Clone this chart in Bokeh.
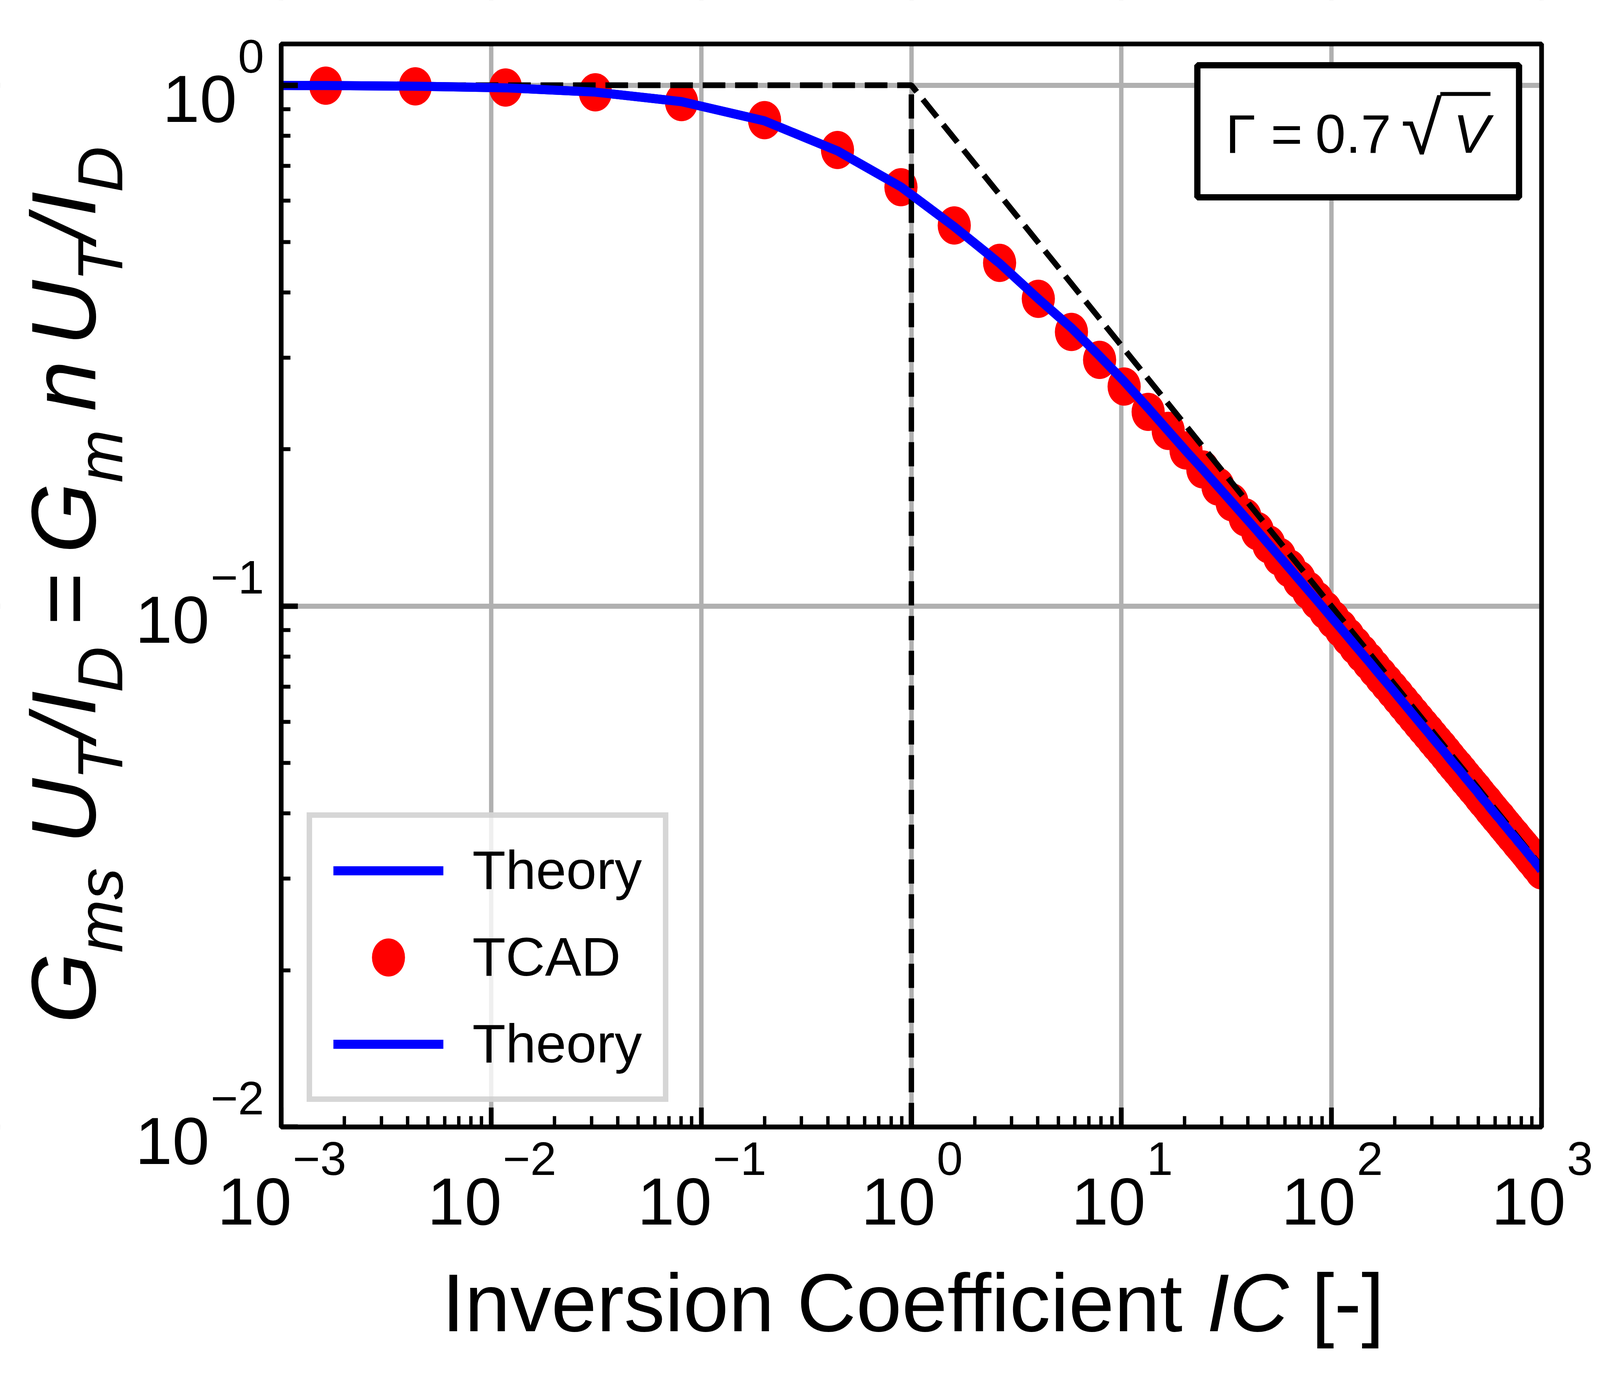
import math
from bokeh.plotting import figure
from bokeh.models import (Legend, LegendItem, Label, BoxAnnotation, FixedTicker,
                          CustomJSTickFormatter, Range1d)
from bokeh.embed import file_html
from bokeh.resources import INLINE

# ---------------- data ----------------
tcad_ic = [0.00163, 0.00435, 0.0117, 0.0313, 0.0805, 0.200, 0.445, 0.892, 1.60, 2.63,
           4.02, 5.78, 7.87, 10.3, 13.4, 16.7, 20.3, 24.4, 28.8, 33.6, 38.8, 44.4, 50.3,
           56.6, 63.2, 70.2, 77.6, 85.4, 93.5, 102.0, 110.9, 120.1, 129.7, 139.7, 150.1,
           160.8, 171.9, 183.3, 195.2, 207.4, 219.9, 232.9, 246.2, 259.9, 273.9, 288.3,
           303.1, 318.3, 333.8, 349.7, 366.0, 382.6, 399.6, 417.0, 434.7, 452.8, 471.3,
           490.2, 509.4, 529.0, 549.0, 569.3, 590.0, 611.1, 632.5, 654.3, 676.5, 699.1,
           722.0, 745.3, 769.0, 793.0, 817.4, 842.2, 867.3, 892.8, 918.7, 945.0, 971.6,
           998.6]
tcad_g = [0.998, 0.995, 0.990, 0.969, 0.928, 0.857, 0.751, 0.637, 0.538, 0.456,
          0.389, 0.336, 0.297, 0.264, 0.236, 0.217, 0.199, 0.1830, 0.1697, 0.1582,
          0.1481, 0.1393, 0.1314, 0.1244, 0.1181, 0.1124, 0.1072, 0.1025, 0.0982, 0.0942,
          0.0906, 0.0872, 0.0840, 0.0811, 0.0784, 0.0758, 0.0734, 0.0712, 0.0691, 0.0671,
          0.0652, 0.0634, 0.0617, 0.0601, 0.0586, 0.0572, 0.0558, 0.0545, 0.0533, 0.0521,
          0.0509, 0.0498, 0.0488, 0.0478, 0.0468, 0.0459, 0.0450, 0.0442, 0.0433, 0.0425,
          0.0418, 0.0410, 0.0403, 0.0396, 0.0390, 0.0383, 0.0377, 0.0371, 0.0365, 0.0360,
          0.0354, 0.0349, 0.0344, 0.0339, 0.0334, 0.0329, 0.0325, 0.0320, 0.0316, 0.0311]

theory_ic = [0.001] + tcad_ic
theory_g = [0.999, 0.9984, 0.9957, 0.9885, 0.970, 0.930, 0.854, 0.748, 0.638, 0.535,
            0.455, 0.389, 0.342, 0.302, 0.270, 0.240, 0.217, 0.1985] + tcad_g[17:]

# asymptotes
asym_ic = [0.001, 1.0, 1000.0]
asym_g = [1.0, 1.0, 0.0316]
vline_ic = [1.0, 1.0]
vline_g = [0.01, 1.0]

x_major = [1e-3, 1e-2, 1e-1, 1e0, 1e1, 1e2, 1e3]
x_exp = ["\u22123", "\u22122", "\u22121", "0", "1", "2", "3"]
y_major = [1e-2, 1e-1, 1e0]
y_exp = ["\u22122", "\u22121", "0"]
legend_labels = ["Theory", "TCAD", "Theory"]
gamma_text = ["\u0393 =", "0.7", "\u221a", "V"]

assert len(tcad_ic) == len(tcad_g)
assert len(theory_ic) == len(theory_g)

X_LIM = (1e-3, 1e3)
Y_LIM = (1e-2, 1.2)
x_minor = [m * 10.0 ** e for e in range(-3, 3) for m in range(2, 10)]
y_minor = [m * 10.0 ** e for e in range(-2, 0) for m in range(2, 10)]

# ---------------- layout ----------------
# Reference-pixel measurements (R) are mapped to css px of the page:
# x by KX (the window shows ~4175 css px across), y by KY; fonts by FS.
KX, KY, FS = 0.8669, 1.0, 0.93
FONT = "Liberation Sans"
OX, OY, W, H = 8, 8, 4150, 3565
PB_L, PB_R, PB_T, PB_B = 839, 4561, 120, 2892   # axes box (reference px)
MID = 0.35                                      # baseline offset of a 'middle' anchor (em)


def scr_x(cx):          # css page x -> canvas screen x
    return cx - OX


def scr_y(cy):          # css page y -> canvas screen y (upwards)
    return OY + H - cy


def PX(rx):
    return rx * KX


def PY(ry):
    return ry * KY


lx0, lx1 = math.log10(X_LIM[0]), math.log10(X_LIM[1])
ly0, ly1 = math.log10(Y_LIM[0]), math.log10(Y_LIM[1])
dx = (lx1 - lx0) / (PX(PB_R) - PX(PB_L))
dy = (ly1 - ly0) / (PY(PB_B) - PY(PB_T))
xr = Range1d(10 ** (lx0 - scr_x(PX(PB_L)) * dx), 10 ** (lx1 + (W - scr_x(PX(PB_R))) * dx))
yr = Range1d(10 ** (ly0 - scr_y(PY(PB_B)) * dy), 10 ** (ly1 + (H - scr_y(PY(PB_T))) * dy))

p = figure(x_axis_type="log", y_axis_type="log", x_range=xr, y_range=yr,
           width=W, height=H, min_border=0,
           output_backend="svg", toolbar_location=None)
p.background_fill_color = "white"
p.border_fill_color = "white"
p.outline_line_color = None

blank = CustomJSTickFormatter(code="return ''")
xa, ya = p.xaxis[0], p.yaxis[0]
for ax, maj, mino, loc, bnds in ((xa, x_major, x_minor, Y_LIM[0], X_LIM),
                                 (ya, y_major, y_minor, X_LIM[0], Y_LIM)):
    ax.ticker = FixedTicker(ticks=maj, minor_ticks=mino)
    ax.formatter = blank
    ax.fixed_location = loc
    ax.bounds = bnds
    ax.axis_line_color = "black"
    ax.axis_line_cap = "square"
    ax.major_tick_out = 0
    ax.minor_tick_out = 0
    ax.major_label_text_font_size = "10px"
    ax.axis_label = None
# bottom axis: vertical ticks
xa.axis_line_width = 13 * KY
xa.major_tick_in, xa.minor_tick_in = int(50 * KY), int(28 * KY)
xa.major_tick_line_width, xa.minor_tick_line_width = 14 * KX, 10 * KX
# left axis: horizontal ticks
ya.axis_line_width = 13 * KX
ya.major_tick_in, ya.minor_tick_in = int(50 * KX), int(28 * KX)
ya.major_tick_line_width, ya.minor_tick_line_width = 14 * KY, 10 * KY

p.xgrid.grid_line_color = "#b0b0b0"
p.ygrid.grid_line_color = "#b0b0b0"
p.xgrid.grid_line_width = 13 * KX
p.ygrid.grid_line_width = 13 * KY

r1 = p.line(theory_ic, theory_g, line_color="#0000ff", line_width=25 * FS)
r2 = p.ellipse(x=tcad_ic, y=tcad_g, width=98 * KX, height=98 * KY,
               width_units="screen", height_units="screen",
               fill_color="#ff0000", line_color=None)
p.line(asym_ic, asym_g, line_color="black", line_width=16 * FS,
       line_dash=f"{round(62 * FS)} {round(27 * FS)}")
p.line(vline_ic, vline_g, line_color="black", line_width=16 * KX,
       line_dash=f"{round(62 * KY)} {round(27 * KY)}")
r5 = p.line(theory_ic, theory_g, line_color="#0000ff", line_width=25 * FS)

# white masks outside the axes box (hide grid / marker overflow)
for l, r, b, t in ((0, scr_x(PX(PB_L)), 0, H), (scr_x(PX(PB_R)), W, 0, H),
                   (0, W, scr_y(PY(PB_T)), H), (0, W, 0, scr_y(PY(PB_B)))):
    p.add_layout(BoxAnnotation(left=l, right=r, bottom=b, top=t,
                               left_units="screen", right_units="screen",
                               bottom_units="screen", top_units="screen",
                               fill_color="white", fill_alpha=1.0, line_color=None))

# axes box (spines)
p.add_layout(BoxAnnotation(left=X_LIM[0], right=X_LIM[1], bottom=Y_LIM[0], top=Y_LIM[1],
                           fill_color=None, fill_alpha=0, line_color="black",
                           line_width=12, line_alpha=1.0))


def lab(text, cx, cy, size, style="normal", rotated=False, align="left"):
    """Label whose baseline origin sits at css page point (cx, cy); size in css px."""
    if rotated:
        ax_, ay_, ang = cx - MID * size, cy, math.pi / 2
    else:
        ax_, ay_, ang = cx, cy - MID * size, 0.0
    p.add_layout(Label(x=scr_x(ax_), y=scr_y(ay_), x_units="screen", y_units="screen",
                       text=text, angle=ang, text_font=FONT, text_font_size=f"{size:.1f}px",
                       text_font_style=style, text_color="black",
                       text_align=align, text_baseline="middle"))


TICK_F, EXP_F = 184 * FS, 129 * FS
BASE_W = 1.112 * TICK_F


def exp_width(e):
    return sum(0.584 if ch == "\u2212" else 0.556 for ch in e) * EXP_F


# x tick labels 10^n, centred on each major tick
for t, e in zip(x_major, x_exp):
    join = BASE_W - (BASE_W + exp_width(e)) / 2
    p.add_layout(Label(x=t, y=scr_y(PY(3142) - MID * TICK_F), x_units="data",
                       y_units="screen", x_offset=join, text="10", text_font=FONT,
                       text_font_size=f"{TICK_F:.1f}px", text_color="black",
                       text_align="right", text_baseline="middle"))
    p.add_layout(Label(x=t, y=scr_y(PY(3015) - MID * EXP_F), x_units="data",
                       y_units="screen", x_offset=join + 3, text=e, text_font=FONT,
                       text_font_size=f"{EXP_F:.1f}px", text_color="black",
                       text_align="left", text_baseline="middle"))

# y tick labels
for t, e in zip(y_major, y_exp):
    jx = PX(PB_L) - PX(54) - exp_width(e)
    p.add_layout(Label(x=scr_x(jx), y=t, x_units="screen", y_units="data",
                       y_offset=-PY(95) + MID * TICK_F, text="10", text_font=FONT,
                       text_font_size=f"{TICK_F:.1f}px", text_color="black",
                       text_align="right", text_baseline="middle"))
    p.add_layout(Label(x=scr_x(jx + 3), y=t, x_units="screen", y_units="data",
                       y_offset=PY(32) + MID * EXP_F, text=e, text_font=FONT,
                       text_font_size=f"{EXP_F:.1f}px", text_color="black",
                       text_align="left", text_baseline="middle"))

# x-axis label: Inversion Coefficient IC [-]  (centred like the reference)
AXF = 233 * 0.9
w1, w2, w3 = 9.337 * AXF, 1.0 * AXF, 0.278 * AXF
total = w1 + w2 + w3 + 0.889 * AXF
x0 = PX(2705) - total / 2
lab("Inversion Coefficient", x0, PY(3415), AXF)
lab("IC", x0 + w1, PY(3415), AXF, "italic")
lab("[-]", x0 + w1 + w2 + w3, PY(3415), AXF)

# y-axis label: G_ms U_T/I_D = G_m n U_T/I_D (rotated, reads upwards)
MAINF, SUBF = 233, 163
MAIN_X = PX(291)
SUB_X = MAIN_X + 69
ypieces = [("G", 2627, "m"), ("ms", 2446, "s"), ("U", 2168, "m"), ("T", 2004, "s"),
           ("/", 1905, "m"), ("I", 1840, "m"), ("D", 1780, "s"), ("=", 1608, "u"),
           ("G", 1424, "m"), ("m", 1243, "s"), ("n", 1060, "m"), ("U", 893, "m"),
           ("T", 728, "s"), ("/", 627, "m"), ("I", 562, "m"), ("D", 500, "s")]
for t, ry, kind in ypieces:
    cy = PY(ry)
    if kind == "s":
        lab(t, SUB_X, cy, SUBF, "italic", True)
    elif kind == "u":
        lab(t, MAIN_X, cy, MAINF, "normal", True)
    else:
        lab(t, MAIN_X, cy, MAINF, "italic", True)

# annotation box  Γ = 0.7 √V
p.add_layout(BoxAnnotation(left=scr_x(PX(3544.5)), right=scr_x(PX(4494.5)),
                           top=scr_y(PY(174.5)), bottom=scr_y(PY(512.5)),
                           left_units="screen", right_units="screen",
                           top_units="screen", bottom_units="screen",
                           fill_color="white", fill_alpha=1.0,
                           line_color="black", line_width=16, line_alpha=1.0))
GF = 150 * FS
lab(gamma_text[0], PX(3628), PY(399), GF)
lab(gamma_text[1], PX(3893), PY(399), GF)
lab(gamma_text[2], PX(4146), PY(402), 205 * FS)
lab(gamma_text[3], PX(4300), PY(399), GF, "italic")
p.add_layout(BoxAnnotation(left=scr_x(PX(4262)), right=scr_x(PX(4410)),
                           top=scr_y(PY(243)), bottom=scr_y(PY(253)),
                           left_units="screen", right_units="screen",
                           top_units="screen", bottom_units="screen",
                           fill_color="black", fill_alpha=1.0, line_color=None))

legend = Legend(items=[LegendItem(label=legend_labels[0], renderers=[r1]),
                       LegendItem(label=legend_labels[1], renderers=[r2]),
                       LegendItem(label=legend_labels[2], renderers=[r5])],
                location=(scr_x(PX(915)), scr_y(PY(2828))), orientation="vertical",
                glyph_width=round(PX(325)), glyph_height=122, label_height=122,
                spacing=61, padding=54, margin=0, label_standoff=round(PX(85)),
                label_text_font=FONT, label_text_font_size=f"{150 * FS:.1f}px",
                label_text_color="black",
                border_line_color="#cccccc", border_line_width=14, border_line_alpha=0.8,
                background_fill_color="white", background_fill_alpha=0.8)
p.add_layout(legend)

open("out.html", "w").write(file_html(p, INLINE))
